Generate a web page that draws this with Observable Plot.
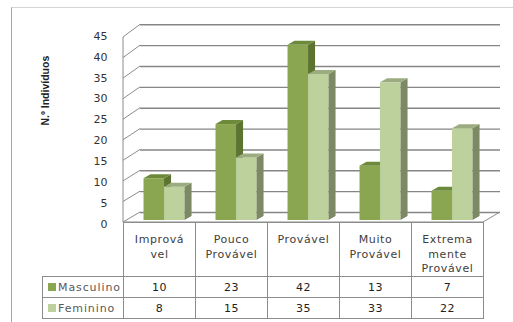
<!DOCTYPE html>
<html><head><meta charset="utf-8">
<script src="https://cdn.jsdelivr.net/npm/d3@7"></script>
<script src="https://cdn.jsdelivr.net/npm/@observablehq/plot@0.6"></script>
<style>
html,body{margin:0;padding:0;background:#fff;}
#wrap{position:relative;width:513px;height:322px;overflow:hidden;font-family:"DejaVu Sans",sans-serif;}
#wrap svg{position:absolute;left:0;top:0;}
#frame{position:absolute;left:11px;top:7px;width:700px;height:500px;border-left:1px solid #a6a6a6;border-top:1px solid #d4d4d4;box-sizing:border-box;}
#tbl{position:absolute;left:42px;top:222px;border-collapse:collapse;table-layout:fixed;}
#tbl td{border:1px solid #8c8c8c;padding:0;text-align:center;font-size:11px;color:#222;letter-spacing:0.4px;}
#tbl td.blank{border:none;}
#tbl tr.head td{height:53px;vertical-align:top;color:#404040;padding-top:9px;box-sizing:border-box;}
#tbl tr.head td div{line-height:14px;letter-spacing:0.6px;}
#tbl tr.head td div.first{line-height:16px;}
#tbl tr.row td{height:20px;}
#tbl td.leg{text-align:left;padding-left:5px;color:#595959;letter-spacing:0.9px;white-space:nowrap;overflow:hidden;}
.sw{display:inline-block;width:8px;height:8px;margin-right:2px;vertical-align:-0px;}
</style>
</head><body>
<div id="wrap"><div id="frame"></div></div>
<script>
// ---- data ----
const categories = ["Improvável", "Pouco Provável", "Provável", "Muito Provável", "Extremamente Provável"];
const categoryLines = [["Imprová", "vel"], ["Pouco", "Provável"], ["Provável"], ["Muito", "Provável"], ["Extrema", "mente", "Provável"]];
const seriesNames = ["Masculino", "Feminino"];
const masculino = [10, 23, 42, 13, 7];
const feminino = [8, 15, 35, 33, 22];
const yTicks = [0, 5, 10, 15, 20, 25, 30, 35, 40, 45];
const yTitle = "N.º Indivíduos";

// ---- style ----
const colors = {
  Masculino: {front: "#8aa650", top: "#6c8a3a", side: "#5d7330"},
  Feminino: {front: "#bcd19b", top: "#9bac80", side: "#7c8964"}
};
const barOffset = {Masculino: 0.285, Feminino: 0.57};
const barWidth = 0.285;
const DX = 7, DY = 4;          // bar depth (px)
const WX = 17, WY = 8;         // wall depth (px)

const bars = seriesNames.map(s => (s === "Masculino" ? masculino : feminino).map((v, i) => ({
  series: s, category: categories[i], value: v, x1: i + barOffset[s], x2: i + barOffset[s] + barWidth
})));

function frontY(y, v) { return y(v) + 2 + v * 0.06; }

function walls(index, {x, y}) {
  const g = d3.create("svg:g").attr("fill", "none").attr("stroke", "#8c8c8c").attr("stroke-width", 1);
  const x0 = x(0), x5 = x(categories.length);
  const top = yTicks[yTicks.length - 1];
  g.append("line").attr("x1", x0).attr("x2", x0).attr("y1", frontY(y, top)).attr("y2", frontY(y, 0));
  for (const v of yTicks) {
    g.append("line").attr("x1", x0).attr("y1", frontY(y, v)).attr("x2", x0 + WX).attr("y2", y(v) - WY);
  }
  g.append("line").attr("x1", x5).attr("y1", frontY(y, 0)).attr("x2", x5 + WX).attr("y2", y(0) - WY);
  g.append("line").attr("x1", x0).attr("y1", frontY(y, 0)).attr("x2", x5).attr("y2", frontY(y, 0));
  return g.node();
}

function faces(list) {
  return (index, {x, y}) => {
    const g = d3.create("svg:g");
    for (const b of list) {
      const X1 = x(b.x1), X2 = x(b.x2), Y = y(b.value), Y0 = y(0);
      const c = colors[b.series];
      g.append("path").attr("fill", c.side)
        .attr("d", `M${X2},${Y}L${X2 + DX},${Y - DY}L${X2 + DX},${Y0 - DY}L${X2},${Y0}Z`);
      g.append("path").attr("fill", c.top)
        .attr("d", `M${X1},${Y}L${X2},${Y}L${X2 + DX},${Y - DY}L${X1 + DX},${Y - DY}Z`);
    }
    return g.node();
  };
}

const marks = [
  Plot.ruleY(yTicks, {y: d => d, x1: 0, x2: categories.length, dx: WX, dy: -WY, stroke: "#868686", strokeWidth: 1.4}),
  walls,
  Plot.text(yTicks, {x: 0, y: d => d, text: d => String(d), dx: -16, dy: 3.5, textAnchor: "end", fill: "#333", fontSize: 11}),
  Plot.text([yTitle], {frameAnchor: "left", text: d => d, rotate: -90, dx: 45, dy: -36, fontWeight: "bold", fontSize: 10.5, fill: "#222", fontFamily: "Liberation Sans"})
];
for (const list of bars) {
  const s = list[0].series;
  marks.push(Plot.rectY(list, {x1: "x1", x2: "x2", y1: 0, y2: "value", fill: colors[s].front}));
  marks.push(faces(list));
}

const svg = Plot.plot({
  width: 513, height: 322, margin: 0,
  x: {type: "linear", domain: [0, categories.length], range: [123, 483], axis: null},
  y: {type: "linear", domain: [0, 45], range: [220, 32.3], axis: null},
  style: {fontFamily: "DejaVu Sans, sans-serif", fontSize: "11px", background: "transparent", overflow: "visible"},
  marks
});
document.getElementById("wrap").appendChild(svg);

// ---- data table ----
const tbl = d3.select("#wrap").append("table").attr("id", "tbl");
const cg = tbl.append("colgroup");
cg.append("col").style("width", "81px");
categories.forEach(() => cg.append("col").style("width", "72px"));
const head = tbl.append("tr").attr("class", "head");
head.append("td").attr("class", "blank");
categoryLines.forEach(lines => {
  const td = head.append("td");
  lines.forEach((l, j) => td.append("div").attr("class", j === 0 ? "first" : null).text(l));
});
[masculino, feminino].forEach((vals, k) => {
  const tr = tbl.append("tr").attr("class", "row");
  const leg = tr.append("td").attr("class", "leg");
  leg.append("span").attr("class", "sw").style("background", colors[seriesNames[k]].front);
  leg.append("span").text(seriesNames[k]);
  vals.forEach(v => tr.append("td").text(v));
});
</script>
</body></html>
